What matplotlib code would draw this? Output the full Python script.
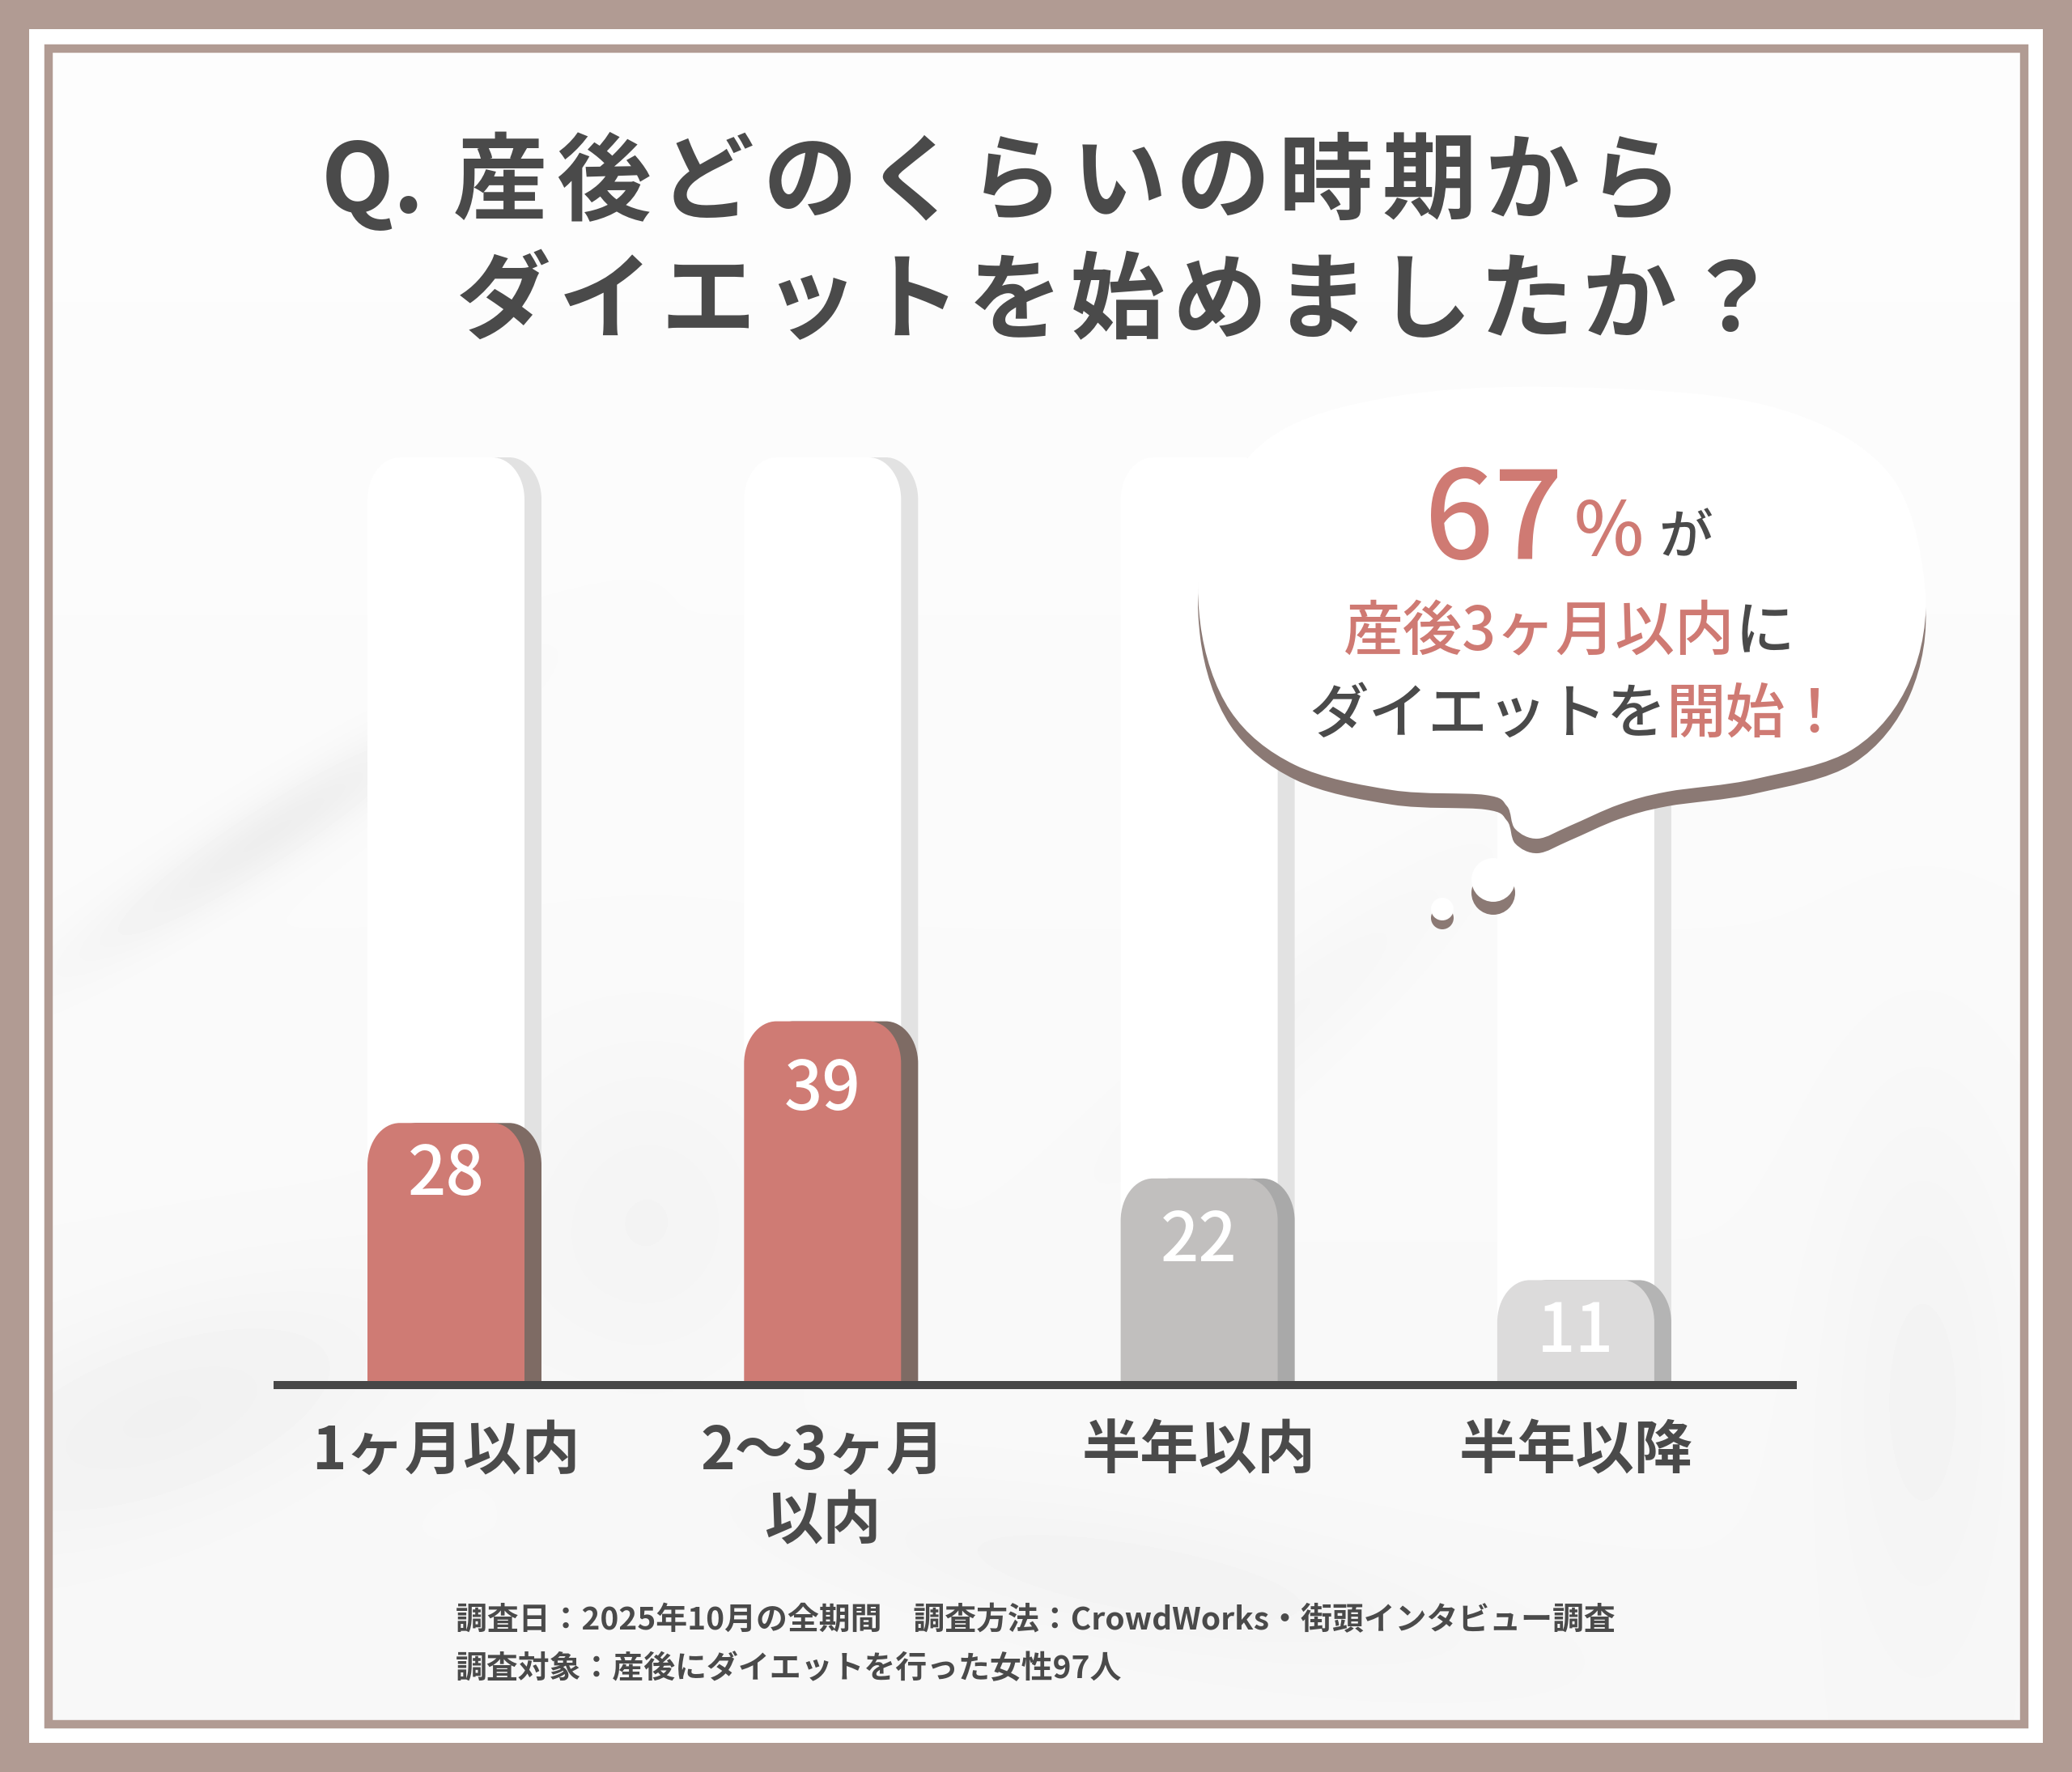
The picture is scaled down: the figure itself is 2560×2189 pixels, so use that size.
import numpy as np
import matplotlib
matplotlib.use("Agg")
import matplotlib.pyplot as plt
from matplotlib.path import Path
from matplotlib.patches import PathPatch, Circle, Rectangle

plt.rcParams['font.family'] = ['Noto Sans CJK JP', 'DejaVu Sans']

# data
categories = ["1ヶ月以内", "2〜3ヶ月\n以内", "半年以内", "半年以降"]
values = [28, 39, 22, 11]
track_max = 100
face_colors = ["#cf7b74", "#cf7b74", "#c1bfbe", "#dcdbdb"]
side_colors = ["#7e6b64", "#7e6b64", "#a9a9a9", "#b4b4b4"]

title_q = "Q."
title_1 = "産後どのくらいの時期から"
title_2 = "ダイエットを始めましたか？"
bubble_big = "67"
bubble_line2 = [("産後3ヶ月以内", "coral"), ("に", "dark")]
bubble_line3 = [("ダイエットを", "dark"), ("開始！", "coral")]
footer_1 = "調査日：2025年10月の全期間　調査方法：CrowdWorks・街頭インタビュー調査"
footer_2 = "調査対象：産後にダイエットを行った女性97人"

W, H = 2560, 2189
DARK = "#4a4a4a"
CORAL = "#cf7a73"
BROWN = "#b19b93"
pal = {"coral": CORAL, "dark": DARK}

fig = plt.figure(figsize=(W / 100, H / 100), dpi=100)

# background layer in pixel coords
bg = fig.add_axes([0, 0, 1, 1], zorder=0)
bg.set_xlim(0, W)
bg.set_ylim(H, 0)
bg.axis('off')

gx, gy = np.meshgrid(np.linspace(0, W, 256), np.linspace(0, H, 220))
tex = 0.992 - 0.022 * (gy / H)
# soft smoky streaks (cx, cy, length, width, angle, depth)
for cx, cy, sl, sw, ang, a in [(330, 1030, 260, 40, -33, 0.05), (200, 1750, 300, 120, -20, 0.03),
                               (800, 1500, 180, 200, 0, 0.02), (1400, 1950, 400, 80, 10, 0.02),
                               (2380, 1700, 120, 350, 0, 0.02), (1600, 1250, 300, 60, -40, 0.015)]:
    t = np.radians(ang)
    u = (gx - cx) * np.cos(t) + (gy - cy) * np.sin(t)
    w = -(gx - cx) * np.sin(t) + (gy - cy) * np.cos(t)
    tex -= a * np.exp(-(u / sl) ** 2 - (w / sw) ** 2)
bg.imshow(tex, cmap='gray', vmin=0, vmax=1, extent=(0, W, H, 0), interpolation='bicubic', aspect='auto')

# bar chart axes
base_px, unit_px = 1707, 11.42
x0_px, x1_px, spacing = 338, 2220, 465.3
c0 = 551
ymax = 112
ax = fig.add_axes([x0_px / W, (H - base_px) / H, (x1_px - x0_px) / W, ymax * unit_px / H], zorder=1)
ax.set_xlim((x0_px - c0) / spacing, (x1_px - c0) / spacing)
ax.set_ylim(0, ymax)
ax.patch.set_alpha(0)
ax.axis('off')

bw = 194 / spacing
shift = 21 / spacing
rx, ry = 40 / spacing, 52 / unit_px
label_drop = [-47, -62, -57, -47]


def top_round(xl, xr, top, rx, ry):
    k = 0.5523
    v = [(xl, 0), (xl, top - ry), (xl, top - ry + k * ry), (xl + rx - k * rx, top), (xl + rx, top),
         (xr - rx, top), (xr - rx + k * rx, top), (xr, top - ry + k * ry), (xr, top - ry),
         (xr, 0), (xl, 0)]
    c = [Path.MOVETO, Path.LINETO, Path.CURVE4, Path.CURVE4, Path.CURVE4, Path.LINETO,
         Path.CURVE4, Path.CURVE4, Path.CURVE4, Path.LINETO, Path.CLOSEPOLY]
    return Path(v, c)


for i, v in enumerate(values):
    # background track
    ax.add_patch(PathPatch(top_round(i - bw / 2 + shift, i + bw / 2 + shift, track_max, rx, ry),
                           fc="#e2e2e2", ec="none"))
    ax.add_patch(PathPatch(top_round(i - bw / 2, i + bw / 2, track_max, rx, ry), fc="#ffffff", ec="none"))
    # bar
    ax.add_patch(PathPatch(top_round(i - bw / 2 + shift, i + bw / 2 + shift, v, rx, ry),
                           fc=side_colors[i], ec="none", zorder=3))
    ax.add_patch(PathPatch(top_round(i - bw / 2, i + bw / 2, v, rx, ry), fc=face_colors[i], ec="none", zorder=3))
    ax.annotate(str(v), (i, v), xytext=(0, label_drop[i]), textcoords='offset points', ha='center',
                va='center', color='white', fontsize=60, weight='medium', zorder=4)
    for j, line in enumerate(categories[i].split("\n")):
        ax.annotate(line, (i, 0), xytext=(0, -62 - j * 62), textcoords='offset points', ha='center',
                    va='center', color=DARK, fontsize=52, weight='bold', annotation_clip=False)

ax.plot(ax.get_xlim(), [-0.35, -0.35], color="#474747", lw=7.2, solid_capstyle='butt', zorder=5, clip_on=False)

# top layer: borders, title, bubble, footer
top = fig.add_axes([0, 0, 1, 1], zorder=2)
top.set_xlim(0, W)
top.set_ylim(H, 0)
top.axis('off')
top.patch.set_alpha(0)

# borders
for (a, b, c, d) in [(0, 0, W, 36), (0, H - 36, W, 36), (0, 0, 36, H), (W - 36, 0, 36, H)]:
    top.add_patch(Rectangle((a, b), c, d, fc=BROWN, ec="none"))
for (a, b, c, d) in [(36, 36, W - 72, 18), (36, H - 54, W - 72, 18), (36, 36, 18, H - 72), (W - 54, 36, 18, H - 72)]:
    top.add_patch(Rectangle((a, b), c, d, fc="white", ec="none"))
top.add_patch(Rectangle((59.5, 59.5), W - 119, H - 119, fc="none", ec=BROWN, lw=7.5))

# title
top.text(397, 228, title_q, fontsize=84, weight='bold', color=DARK, ha='left', va='center')
for k, ch in enumerate(title_1):
    top.text(618 + k * 127.5, 228, ch, fontsize=84, weight='bold', color=DARK, ha='center', va='center')
for k, ch in enumerate(title_2):
    top.text(622 + k * 126.4, 375, ch, fontsize=84, weight='bold', color=DARK, ha='center', va='center')


def smooth_closed(pts):
    p = np.array(pts, float)
    n = len(p)
    verts = [p[0]]
    codes = [Path.MOVETO]
    for i in range(n):
        p0, p1, p2, p3 = p[i - 1], p[i], p[(i + 1) % n], p[(i + 2) % n]
        verts += [p1 + (p2 - p0) / 6, p2 - (p3 - p1) / 6, p2]
        codes += [Path.CURVE4] * 3
    verts.append(p[0])
    codes.append(Path.CLOSEPOLY)
    return np.array(verts), codes


bubble_pts = [(1930, 478), (2180, 500), (2330, 580), (2378, 720), (2360, 840), (2290, 925),
              (2170, 962), (2060, 978), (2000, 994), (1940, 1020), (1900, 1036), (1872, 1024),
              (1862, 996), (1835, 982), (1720, 976), (1600, 945), (1520, 878), (1483, 770),
              (1492, 650), (1570, 540), (1720, 490)]
bv, bc = smooth_closed(bubble_pts)
top.add_patch(PathPatch(Path(bv + [0, 18], bc), fc="#8b7974", ec="none"))
top.add_patch(PathPatch(Path(bv, bc), fc="white", ec="none"))
for cx, cy, r, off in [(1845, 1087, 27, 16), (1782, 1123, 14, 11)]:
    top.add_patch(Circle((cx, cy + off), r, fc="#8b7974", ec="none"))
    top.add_patch(Circle((cx, cy), r, fc="white", ec="none"))

# bubble text
top.text(1760, 690, bubble_big, fontsize=108, color=CORAL, ha='left', va='baseline', weight='medium')
top.text(1945, 686, "%", fontsize=66, color=CORAL, ha='left', va='baseline', weight='medium')
top.text(2049, 684, "が", fontsize=48, color=DARK, ha='left', va='baseline', weight='medium')


def colored_line(x, y, parts, size):
    t = None
    for s, c in parts:
        if t is None:
            t = top.text(x, y, s, color=pal[c], fontsize=size, ha='left', va='center', weight='medium')
        else:
            t = top.annotate(s, xy=(1, 0), xycoords=t, xytext=(0, 0), textcoords='offset points',
                             ha='left', va='bottom', color=pal[c], fontsize=size, weight='medium')


colored_line(1660, 782, bubble_line2, 53)
colored_line(1617, 884, bubble_line3, 53)

# footer
top.text(563, 2002, footer_1, fontsize=28, weight='bold', color=DARK, ha='left', va='center')
top.text(563, 2062, footer_2, fontsize=28, weight='bold', color=DARK, ha='left', va='center')

fig.savefig("out.png", dpi=100)
